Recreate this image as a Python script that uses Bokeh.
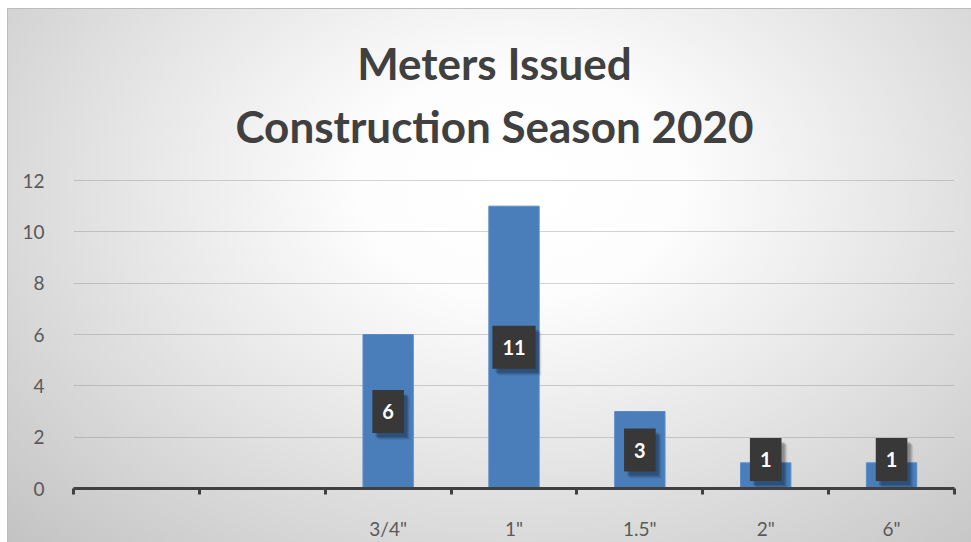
from bokeh.plotting import figure
from bokeh.models import FixedTicker, ColumnDataSource, Label
from bokeh.core.properties import value
from bokeh.embed import file_html
from bokeh.resources import INLINE

# ---- data ----
categories = ["", "", "3/4\"", "1\"", "1.5\"", "2\"", "6\""]
counts = [None, None, 6, 11, 3, 1, 1]
y_ticks = [0, 2, 4, 6, 8, 10, 12]
title_lines = ["Meters Issued", "Construction Season 2020"]

W, H = 971, 542
FL, FR, FB = 73, 954, 488       # plot-area edges in px
PT = 180                        # px of the 12 gridline (top of value area)
CT = 9                          # top of the chart box
n = len(categories)
ymax = 12
px_per_x = (FR - FL) / n
px_per_y = (FB - PT) / ymax
ytop = ymax + (PT - CT) / px_per_y  # extra room above for the title

xs = [i + 0.5 for i, v in enumerate(counts) if v is not None]
tops = [v for v in counts if v is not None]
labels = [str(v) for v in tops]
label_y = [max(v / 2, 1.13) for v in tops]
src = ColumnDataSource(dict(x=xs, top=tops, text=labels, ly=label_y))

p = figure(width=W, height=H, output_backend="svg", toolbar_location=None,
           x_range=(0, n), y_range=(0, ytop),
           min_border_left=FL, min_border_right=W - FR,
           min_border_top=CT, min_border_bottom=H - FB)
p.border_fill_color = None
p.background_fill_color = None
p.outline_line_color = None
p.styles = {
    "background": "radial-gradient(ellipse farthest-corner at 53% 33%, #ffffff 0%, #fdfdfd 22%, #e6e6e6 54%, #c3c3c3 100%) 8px 9px / 963px 533px no-repeat, "
                  "linear-gradient(#bdbdbd, #bdbdbd) 7px 8px / 965px 535px no-repeat, #ffffff"
}

# bars
p.vbar(x="x", top="top", width=0.4, bottom=0, source=src,
       fill_color="#4a7ebb", line_color="#5b8cc6", line_width=1)

# data labels (soft shadow, then box)
for dx, dy, a in [(6, 7, 0.06), (5, 6, 0.09), (4, 5, 0.12), (3, 4, 0.14)]:
    p.text(x="x", y="ly", text="text", source=src, x_offset=dx, y_offset=dy,
           text_font=value("Lato"), text_font_style="bold", text_font_size="20px",
           text_align="center", text_baseline="middle", text_alpha=0,
           background_fill_color="#000000", background_fill_alpha=a,
           padding=dict(x=10, y=14))
p.text(x="x", y="ly", text="text", source=src,
       text_font=value("Lato"), text_font_style="bold", text_font_size="20px",
       text_color="white", text_align="center", text_baseline="middle",
       background_fill_color="#383838", padding=dict(x=10, y=14))

# x axis: labels at category centers, tick marks at boundaries
xa = p.xaxis[0]
xa.ticker = FixedTicker(ticks=[i + 0.5 for i in range(n)], minor_ticks=list(range(n + 1)))
xa.major_label_overrides = {i + 0.5: c for i, c in enumerate(categories)}
xa.axis_line_color = "#404040"
xa.axis_line_width = 3
xa.major_tick_line_color = None
xa.major_tick_out = 0
xa.major_tick_in = 0
xa.minor_tick_line_color = "#404040"
xa.minor_tick_line_width = 3
xa.minor_tick_out = 6
xa.minor_tick_in = 0
xa.major_label_standoff = 22
xa.major_label_text_font = "Lato"
xa.major_label_text_font_size = "19px"
xa.major_label_text_color = "#595959"

ya = p.yaxis[0]
ya.ticker = FixedTicker(ticks=y_ticks)
ya.axis_line_color = None
ya.major_tick_line_color = None
ya.minor_tick_line_color = None
ya.major_label_standoff = 23
ya.major_label_text_font = "Lato"
ya.major_label_text_font_size = "19px"
ya.major_label_text_color = "#595959"

p.xgrid.grid_line_color = None
p.ygrid.grid_line_color = "#808080"
p.ygrid.grid_line_alpha = 0.35
p.ygrid.grid_line_width = 1

# title as two centered lines
tx = (494 - FL) / px_per_x
for line, cy in zip(title_lines, [62, 125]):
    p.add_layout(Label(x=tx, y=(FB - cy) / px_per_y, text=line,
                       text_font="Lato", text_font_style="bold", text_font_size="44px",
                       text_color="#404040", text_align="center", text_baseline="middle"))

open("out.html", "w").write(file_html(p, INLINE))
